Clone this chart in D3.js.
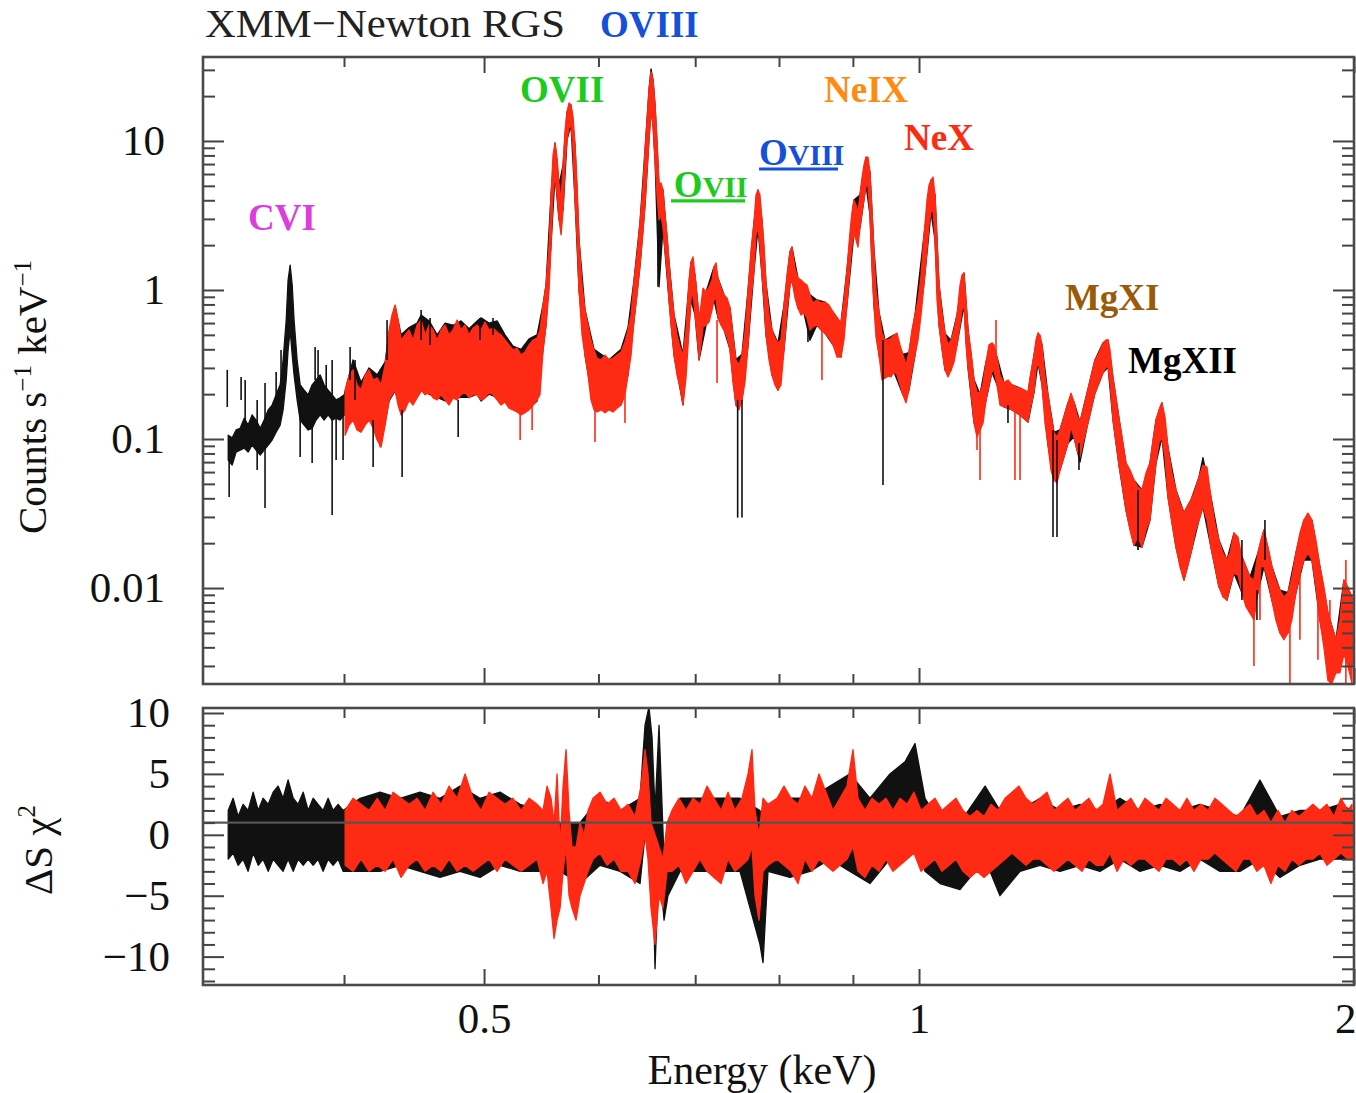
<!DOCTYPE html>
<html><head><meta charset="utf-8">
<script src="https://cdn.jsdelivr.net/npm/d3@7"></script>
<style>body{margin:0;background:#fff}</style></head>
<body>
<svg id="c" width="1356" height="1093"></svg>
<script>
// ===== DATA (energy keV, upper, lower) =====
const redSpectrum = [
[0.4007,0.213,0.106],[0.4033,0.269,0.124],[0.4058,0.291,0.134],[0.4084,0.231,0.115],[0.4110,0.213,0.111],
[0.4137,0.269,0.124],[0.4163,0.291,0.134],[0.4190,0.249,0.118],[0.4217,0.257,0.0985],[0.4243,0.231,0.0882],
[0.4271,0.314,0.124],[0.4298,0.539,0.183],[0.4318,0.680,0.198],[0.4339,0.793,0.213],[0.4360,0.629,0.169],
[0.4381,0.462,0.145],[0.4409,0.499,0.157],[0.4437,0.539,0.183],[0.4465,0.462,0.169],[0.4494,0.582,0.189],
[0.4523,0.629,0.213],[0.4552,0.499,0.198],[0.4581,0.582,0.206],[0.4610,0.539,0.189],[0.4640,0.462,0.183],
[0.4669,0.539,0.198],[0.4699,0.582,0.183],[0.4729,0.499,0.169],[0.4759,0.539,0.189],[0.4790,0.629,0.183],
[0.4820,0.539,0.198],[0.4851,0.582,0.206],[0.4882,0.499,0.189],[0.4913,0.556,0.198],[0.4945,0.582,0.198],
[0.4976,0.539,0.183],[0.5008,0.610,0.189],[0.5040,0.539,0.206],[0.5072,0.556,0.198],[0.5105,0.522,0.183],
[0.5137,0.499,0.169],[0.5170,0.462,0.177],[0.5203,0.428,0.161],[0.5236,0.396,0.157],[0.5270,0.408,0.152],
[0.5304,0.366,0.145],[0.5338,0.384,0.150],[0.5372,0.428,0.157],[0.5406,0.462,0.169],[0.5441,0.476,0.183],
[0.5466,0.539,0.198],[0.5493,0.793,0.396],[0.5519,1.08,0.582],[0.5546,2.00,1.00],[0.5563,4.34,2.00],
[0.5581,8.05,4.34],[0.5599,9.69,5.91],[0.5617,7.68,4.34],[0.5635,5.07,2.95],[0.5653,4.02,2.34],
[0.5671,6.90,3.44],[0.5689,11.85,6.90],[0.5707,15.7,10.16],[0.5725,18.0,12.2],[0.5743,17.45,12.8],
[0.5762,14.5,8.70],[0.5780,9.40,4.02],[0.5799,5.07,2.17],[0.5817,2.17,1.00],[0.5845,1.08,0.499],
[0.5873,0.734,0.366],[0.5901,0.582,0.269],[0.5929,0.462,0.183],[0.5958,0.396,0.157],[0.5986,0.349,0.152],
[0.6025,0.339,0.157],[0.6063,0.366,0.150],[0.6102,0.339,0.157],[0.6141,0.349,0.152],[0.6180,0.366,0.161],
[0.6220,0.384,0.169],[0.6259,0.448,0.198],[0.6289,0.539,0.269],[0.6320,0.680,0.366],[0.6350,1.167,0.629],
[0.6380,1.72,0.926],[0.6411,2.86,1.47],[0.6442,5.07,2.53],[0.6462,8.70,3.72],[0.6483,13.84,6.39],
[0.6503,22.0,10.16],[0.6524,29.1,16.15],[0.6545,25.7,12.8],[0.6566,17.45,7.46],[0.6587,10.16,4.34],
[0.6608,5.07,2.95],[0.6629,5.22,3.19],[0.6650,4.69,2.61],[0.6671,3.19,1.855],[0.6693,2.34,1.32],
[0.6714,1.54,0.857],[0.6735,1.08,0.582],[0.6768,0.680,0.366],[0.6800,0.499,0.269],[0.6833,0.415,0.224],
[0.6865,0.366,0.169],[0.6898,0.539,0.257],[0.6931,1.167,0.539],[0.6953,1.54,0.857],[0.6976,1.67,0.969],
[0.6998,1.26,0.680],[0.7020,0.926,0.499],[0.7043,0.649,0.339],[0.7065,0.793,0.428],[0.7088,1.03,0.564],
[0.7122,0.969,0.582],[0.7156,1.047,0.610],[0.7190,1.167,0.734],[0.7213,1.425,0.857],[0.7236,1.52,0.884],
[0.7259,1.20,0.649],[0.7294,1.03,0.582],[0.7329,0.926,0.539],[0.7364,0.884,0.484],[0.7399,0.757,0.396],
[0.7435,0.484,0.238],[0.7470,0.339,0.169],[0.7506,0.314,0.157],[0.7542,0.366,0.183],[0.7578,0.522,0.241],
[0.7615,1.00,0.428],[0.7651,1.855,0.857],[0.7688,2.86,1.36],[0.7712,4.34,2.34],[0.7737,4.69,2.61],
[0.7761,4.34,2.00],[0.7786,2.95,1.26],[0.7811,2.00,0.857],[0.7836,1.114,0.499],[0.7874,0.680,0.339],
[0.7911,0.539,0.269],[0.7949,0.476,0.231],[0.7987,0.441,0.213],[0.8025,0.462,0.231],[0.8064,0.793,0.396],
[0.8103,1.26,0.734],[0.8141,1.80,1.08],[0.8167,1.94,1.167],[0.8207,1.40,0.884],[0.8246,1.20,0.757],
[0.8285,1.167,0.680],[0.8325,1.114,0.701],[0.8365,1.08,0.649],[0.8405,0.926,0.539],[0.8445,0.818,0.564],
[0.8499,0.857,0.582],[0.8553,0.818,0.539],[0.8608,0.831,0.514],[0.8663,0.793,0.476],[0.8719,0.712,0.428],
[0.8775,0.649,0.355],[0.8830,0.600,0.355],[0.8873,0.857,0.462],[0.8915,1.36,0.793],[0.8958,2.45,1.40],
[0.8987,3.33,2.00],[0.9015,4.02,2.41],[0.9044,3.72,2.17],[0.9073,3.33,1.94],[0.9102,4.34,2.61],
[0.9131,5.64,3.33],[0.9160,6.90,4.02],[0.9190,7.80,5.07],[0.9219,7.80,4.92],[0.9248,6.19,3.19],
[0.9278,3.44,1.36],[0.9307,1.855,0.793],[0.9337,1.00,0.484],[0.9382,0.712,0.366],[0.9427,0.514,0.249],
[0.9472,0.462,0.257],[0.9517,0.462,0.265],[0.9563,0.476,0.261],[0.9609,0.499,0.282],[0.9655,0.514,0.269],
[0.9701,0.428,0.231],[0.9747,0.366,0.198],[0.9794,0.314,0.175],[0.9841,0.384,0.213],[0.9888,0.539,0.291],
[0.9936,0.680,0.366],[0.9984,0.857,0.462],[1.0032,1.26,0.680],[1.0080,2.34,1.114],[1.0128,4.02,1.855],
[1.0161,5.07,2.73],[1.0193,5.47,3.33],[1.0226,5.73,3.44],[1.0258,4.34,2.17],[1.0291,2.17,0.857],
[1.0324,1.08,0.582],[1.0373,0.712,0.396],[1.0423,0.514,0.291],[1.0473,0.428,0.261],[1.0523,0.462,0.291],
[1.0574,0.539,0.329],[1.0624,0.680,0.428],[1.0675,1.08,0.582],[1.0709,1.26,0.734],[1.0743,1.30,0.793],
[1.0777,0.857,0.428],[1.0812,0.539,0.300],[1.0864,0.384,0.206],[1.0916,0.249,0.128],[1.0968,0.206,0.103],
[1.1021,0.203,0.115],[1.1074,0.238,0.128],[1.1127,0.329,0.183],[1.1180,0.428,0.231],[1.1233,0.441,0.282],
[1.1269,0.428,0.291],[1.1323,0.355,0.231],[1.1377,0.269,0.169],[1.1450,0.238,0.164],[1.1523,0.249,0.161],
[1.1597,0.231,0.157],[1.1671,0.224,0.150],[1.1746,0.220,0.145],[1.1821,0.213,0.138],[1.1897,0.206,0.130],
[1.1934,0.257,0.157],[1.2011,0.366,0.206],[1.2049,0.462,0.291],[1.2088,0.514,0.324],[1.2126,0.499,0.291],
[1.2165,0.428,0.231],[1.2223,0.261,0.128],[1.2282,0.198,0.091],[1.2340,0.145,0.0619],[1.2400,0.111,0.0531],
[1.2459,0.103,0.0507],[1.2519,0.115,0.0619],[1.2599,0.141,0.0756],[1.2680,0.175,0.094],[1.2740,0.203,0.120],
[1.2801,0.177,0.103],[1.2862,0.145,0.0843],[1.2924,0.130,0.0756],[1.2986,0.157,0.094],[1.3069,0.203,0.120],
[1.3152,0.261,0.157],[1.3236,0.339,0.203],[1.3321,0.377,0.238],[1.3406,0.441,0.278],[1.3470,0.462,0.304],
[1.3514,0.462,0.304],[1.3557,0.396,0.238],[1.3622,0.257,0.134],[1.3687,0.189,0.094],[1.3752,0.138,0.0669],
[1.3818,0.103,0.0507],[1.3906,0.0690,0.0334],[1.3996,0.0619,0.0245],[1.4085,0.0531,0.0194],[1.4176,0.0476,0.0220],
[1.4266,0.0455,0.0188],[1.4357,0.0591,0.0245],[1.4449,0.0690,0.0286],[1.4518,0.0985,0.0455],[1.4588,0.134,0.0690],
[1.4657,0.157,0.094],[1.4727,0.175,0.103],[1.4798,0.141,0.0756],[1.4869,0.0882,0.0408],[1.4964,0.0591,0.0273],
[1.5060,0.0455,0.0188],[1.5156,0.0372,0.0139],[1.5253,0.0319,0.0113],[1.5351,0.0361,0.0143],[1.5424,0.0390,0.0172],
[1.5523,0.0455,0.0234],[1.5622,0.0555,0.0286],[1.5722,0.0669,0.0350],[1.5822,0.0649,0.0286],[1.5923,0.0408,0.0188],
[1.6024,0.0273,0.0139],[1.6127,0.0210,0.0102],[1.6231,0.0172,0.0087],[1.6334,0.0154,0.0083],[1.6413,0.0172,0.0102],
[1.6518,0.0234,0.0126],[1.6623,0.0220,0.0122],[1.6729,0.0162,0.0093],[1.6836,0.0139,0.0075],[1.6944,0.0118,0.0068],
[1.7052,0.0113,0.0061],[1.7162,0.0172,0.0093],[1.7244,0.0210,0.0139],[1.7326,0.0245,0.0139],[1.7437,0.0188,0.0113],
[1.7548,0.0139,0.0083],[1.7660,0.0113,0.0061],[1.7773,0.0097,0.0050],[1.7887,0.0087,0.0045],[1.8001,0.0093,0.0050],
[1.8116,0.0118,0.0061],[1.8232,0.0172,0.0093],[1.8349,0.0234,0.0126],[1.8466,0.0286,0.0154],[1.8584,0.0319,0.0172],
[1.8703,0.0286,0.0154],[1.8822,0.0210,0.0102],[1.8943,0.0139,0.0061],[1.9064,0.0102,0.0040],[1.9186,0.0068,0.0024],
[1.9308,0.0055,0.0023],[1.9432,0.0045,0.0027],[1.9556,0.0061,0.0027],[1.9681,0.0113,0.0036],[1.9806,0.0102,0.0030],
[1.9934,0.0087,0.0023]
];

const blackSpectrum = [
[0.3326,0.106,0.0723],[0.3347,0.102,0.0669],[0.3368,0.115,0.0817],[0.3390,0.118,0.0843],[0.3412,0.138,0.0869],
[0.3433,0.124,0.0817],[0.3455,0.145,0.091],[0.3477,0.134,0.0843],[0.3500,0.118,0.0780],[0.3522,0.134,0.0843],
[0.3545,0.157,0.091],[0.3567,0.169,0.0985],[0.3590,0.198,0.111],[0.3613,0.231,0.124],[0.3630,0.339,0.157],
[0.3648,0.629,0.249],[0.3659,1.167,0.396],[0.3671,1.47,0.539],[0.3683,1.08,0.366],[0.3694,0.629,0.269],
[0.3712,0.339,0.183],[0.3730,0.231,0.134],[0.3754,0.213,0.124],[0.3778,0.198,0.115],[0.3802,0.231,0.118],
[0.3826,0.249,0.134],[0.3851,0.269,0.145],[0.3875,0.231,0.134],[0.3900,0.213,0.145],[0.3925,0.198,0.134],
[0.3950,0.183,0.138],[0.3975,0.189,0.134],[0.4001,0.198,0.145],
[0.4058,0.34,0.14],[0.4110,0.24,0.12],[0.4163,0.30,0.135],[0.4217,0.27,0.12],[0.4271,0.33,0.13],
[0.4298,0.52,0.18],[0.4339,0.78,0.21],[0.4381,0.50,0.16],[0.4437,0.56,0.18],[0.4494,0.60,0.19],
[0.4523,0.68,0.21],[0.4581,0.62,0.20],[0.4640,0.50,0.19],[0.4699,0.60,0.18],[0.4759,0.58,0.19],
[0.4820,0.62,0.19],[0.4882,0.55,0.19],[0.4945,0.62,0.20],[0.4976,0.65,0.18],[0.5040,0.60,0.20],
[0.5105,0.62,0.19],[0.5170,0.50,0.18],[0.5236,0.42,0.16],[0.5304,0.40,0.15],[0.5372,0.47,0.16],
[0.5441,0.50,0.18],[0.5493,0.80,0.40],[0.5519,1.08,0.58],[0.5563,4.34,2.00],[0.5599,9.69,5.91],
[0.5635,5.07,2.95],[0.5671,6.90,3.44],[0.5707,15.7,10.2],[0.5743,17.45,12.8],[0.5780,9.4,4.0],
[0.5817,2.17,1.0],[0.5873,0.734,0.366],[0.5958,0.40,0.16],[0.6102,0.34,0.16],[0.6220,0.40,0.17],
[0.6289,0.56,0.27],[0.6350,1.17,0.63],[0.6411,2.86,1.47],[0.6462,8.7,3.72],[0.6503,22,10.2],
[0.6524,30.5,16.2],[0.6545,25.7,12.8],[0.6566,17.5,7.5],[0.6608,5.0,1.05],[0.6650,4.69,2.61],
[0.6714,1.54,0.857],[0.6768,0.68,0.366],[0.6865,0.37,0.17],[0.6953,1.54,0.857],[0.6998,1.26,0.68],
[0.7043,0.65,0.34],[0.7122,0.97,0.58],[0.7213,1.43,0.857],[0.7259,1.2,0.649],[0.7329,0.93,0.54],
[0.7399,0.76,0.40],[0.7470,0.34,0.169],[0.7542,0.37,0.183],[0.7615,1.0,0.428],[0.7688,2.86,1.36],
[0.7737,4.69,2.61],[0.7786,2.95,1.26],[0.7836,1.11,0.5],[0.7911,0.54,0.27],[0.7987,0.44,0.213],
[0.8064,0.79,0.40],[0.8141,1.80,1.08],[0.8167,1.94,1.17],[0.8246,1.20,0.757],[0.8325,1.11,0.70],
[0.8405,0.93,0.46],[0.8499,0.857,0.582],[0.8608,0.83,0.514],[0.8719,0.71,0.428],[0.8830,0.60,0.355],
[0.8915,1.36,0.79],[0.9015,4.02,2.41],[0.9102,4.34,2.61],[0.9190,7.8,5.07],[0.9248,6.19,3.19],
[0.9307,1.86,0.79],[0.9382,0.71,0.366],[0.9472,0.46,0.257],[0.9609,0.50,0.282],[0.9747,0.37,0.198],
[0.9841,0.38,0.213],[0.9936,0.68,0.366],[1.0080,2.34,1.11],[1.0193,5.47,3.33],[1.0258,4.34,2.17],
[1.0324,1.08,0.58],[1.0423,0.51,0.29],[1.0523,0.46,0.29],[1.0624,0.68,0.43],[1.0743,1.30,0.79],
[1.0812,0.54,0.30],[1.0916,0.25,0.128],[1.1021,0.20,0.115],[1.1127,0.33,0.183],[1.1233,0.44,0.28],
[1.1323,0.355,0.231],[1.1450,0.238,0.164],[1.1597,0.231,0.157],[1.1746,0.22,0.145],[1.1897,0.206,0.130],
[1.2011,0.366,0.206],[1.2088,0.514,0.324],[1.2165,0.43,0.231],[1.2282,0.198,0.091],[1.2400,0.111,0.053],
[1.2519,0.115,0.062],[1.2680,0.175,0.094],[1.2801,0.177,0.103],[1.2924,0.130,0.070],[1.3069,0.203,0.120],
[1.3236,0.339,0.203],[1.3406,0.441,0.278],[1.3514,0.462,0.304],[1.3622,0.257,0.134],[1.3752,0.138,0.0669],
[1.3906,0.069,0.0334],[1.4085,0.053,0.0194],[1.4266,0.0455,0.0188],[1.4449,0.069,0.0286],[1.4588,0.134,0.069],
[1.4727,0.175,0.103],[1.4869,0.088,0.041],[1.5060,0.0455,0.0188],[1.5253,0.032,0.0113],[1.5424,0.039,0.0172],
[1.5622,0.0555,0.0286],[1.5722,0.075,0.035],[1.5923,0.0408,0.0188],[1.6127,0.021,0.0102],[1.6334,0.0154,0.0083],
[1.6518,0.0234,0.0126],[1.6729,0.0162,0.0093],[1.6944,0.0118,0.0068],[1.7162,0.0172,0.0093],[1.7326,0.0245,0.0139],
[1.7548,0.0139,0.0083],[1.7773,0.0097,0.0050],[1.8001,0.0093,0.0050],[1.8232,0.0172,0.0093],[1.8466,0.0286,0.0154],
[1.8703,0.0286,0.0154],[1.8943,0.0139,0.0061],[1.9186,0.0068,0.0030],[1.9432,0.0045,0.0027],[1.9681,0.0113,0.0036],
[1.9934,0.0087,0.0030]
];

// single outlying error bars (energy, upper, lower)
const blackSpikes = [
[0.3321,0.291,0.164],[0.3331,0.0985,0.0408],[0.3395,0.261,0.183],[0.3417,0.249,0.134],[0.3483,0.183,0.0619],
[0.3527,0.238,0.0345],[0.3590,0.282,0.183],[0.3618,0.396,0.183],[0.3730,0.183,0.0756],[0.3802,0.134,0.0690],
[0.3820,0.415,0.249],[0.3838,0.396,0.213],[0.3888,0.314,0.183],[0.3925,0.339,0.0309],[0.3950,0.183,0.0723],
[0.3994,0.157,0.0723],[0.4039,0.415,0.249],[0.4071,0.339,0.183],[0.4190,0.134,0.0649],[0.4284,0.629,0.339],
[0.4388,0.157,0.0555],[0.4523,0.734,0.462],[0.4588,0.649,0.428],[0.4798,0.183,0.103],[0.4968,0.649,0.462],
[0.5072,0.649,0.499],[0.6597,2.61,1.05],[0.7490,0.183,0.0297],[0.7542,0.183,0.0297],[0.8378,0.539,0.448],
[0.9442,0.462,0.0491],[1.1523,0.169,0.128],[1.2380,0.115,0.0220],[1.2459,0.0985,0.0220],[1.2903,0.094,0.0619],
[1.4176,0.0455,0.0180],[1.6729,0.0210,0.0083],[1.7134,0.0097,0.0061],[1.7354,0.0286,0.0154]
];
const redSpikes = [
[0.4237,0.134,0.0882],[0.5296,0.183,0.0985],[0.5398,0.183,0.115],[0.5967,0.183,0.0955],[0.6259,0.198,0.128],
[0.7248,0.629,0.238],[0.8567,0.629,0.249],[1.0968,0.134,0.0843],[1.1021,0.115,0.0531],[1.1305,0.629,0.339],
[1.1652,0.157,0.0531],[1.1746,0.157,0.0531],[1.4176,0.0245,0.0180],[1.7052,0.0083,0.0030],[1.7216,0.0154,0.0061],
[1.8059,0.0083,0.0023],[1.8349,0.0154,0.0045],[1.8883,0.0154,0.0033],[1.9247,0.0083,0.0023],[1.9743,0.0154,0.0023]
];

// residuals (energy, upper, lower)
const redResidual = [
[0.4007,2,-2.5],[0.4058,3,-3],[0.4110,2.5,-2],[0.4163,2,-3],[0.4217,3,-2.5],[0.4271,2,-3],[0.4325,3.5,-2],
[0.4381,3,-3.5],[0.4437,2.5,-2.5],[0.4494,3,-2],[0.4552,2,-3],[0.4610,3.5,-2.5],[0.4669,2.5,-3],[0.4729,4,-2],
[0.4790,3,-3],[0.4851,5,-2.5],[0.4913,3,-3],[0.4976,2,-2.5],[0.5040,3.5,-2],[0.5105,3,-3],[0.5170,2.5,-2],
[0.5236,3,-2.5],[0.5304,2,-3],[0.5372,3,-2.5],[0.5441,2.5,-2],[0.5493,2,-4],[0.5528,4,-3],[0.5563,3,-6],
[0.5590,1,-8.5],[0.5617,5,-7],[0.5644,-1,-6],[0.5671,4,-3],[0.5698,7,-1],[0.5725,2,-5],[0.5752,-1,-6],
[0.5789,-1,-7],[0.5826,1,-5],[0.5864,0,-4],[0.5901,2,-3],[0.5948,3,-2],[0.6015,3.5,-1.5],[0.6083,2.5,-2.5],
[0.6151,3,-2],[0.6220,2,-3],[0.6289,2.5,-3],[0.6360,1.5,-4],[0.6421,4,-2],[0.6462,7,0],[0.6493,5,-2],
[0.6524,1,-6],[0.6566,0,-9],[0.6608,-1,-5],[0.6650,-2,-6],[0.6693,1,-3],[0.6746,2,-3],[0.6822,3,-2.5],
[0.6898,2,-4],[0.6976,3,-3],[0.7054,2.5,-2],[0.7133,4,-3],[0.7213,3,-3.5],[0.7294,2,-4],[0.7376,3.5,-2],
[0.7458,2,-3],[0.7542,3,-2.5],[0.7615,5,-2],[0.7663,7,-1],[0.7700,2,-5],[0.7749,0,-7],[0.7799,3,-3],
[0.7861,2.5,-2.5],[0.7975,3,-2],[0.8064,4,-2.5],[0.8154,3,-3],[0.8246,2.5,-4],[0.8338,4,-2],[0.8432,3,-3],
[0.8527,5,-2],[0.8622,3.5,-2.5],[0.8719,2,-3],[0.8816,3,-2.5],[0.8915,4,-2],[0.9001,7,-1],[0.9073,3,-3],
[0.9175,2,-3.5],[0.9278,3,-2.5],[0.9382,2.5,-3],[0.9487,3,-2],[0.9593,2,-3],[0.9701,3,-2.5],[0.9810,2.5,-2],
[0.9920,3.5,-1.5],[1.0032,2,-3],[1.0144,2.5,-2.5],[1.0258,3,-2],[1.0373,2,-3],[1.0490,2.5,-2.5],[1.0607,3,-2],
[1.0726,2,-3],[1.0847,1.5,-3.5],[1.0968,2,-3],[1.1091,1.5,-3.5],[1.1216,2.5,-3],[1.1341,2,-2.5],[1.1468,3,-2],
[1.1597,3.5,-1.5],[1.1727,4,-2],[1.1859,3,-2.5],[1.1992,2.5,-2],[1.2126,3,-2],[1.2262,3.5,-2.5],[1.2400,2,-3],
[1.2539,2.5,-2.5],[1.2680,3,-2],[1.2822,2,-2.5],[1.2965,2.5,-3],[1.3111,3,-2],[1.3258,2,-2.5],[1.3406,2.5,-2.5],
[1.3557,5,-1.5],[1.3709,2,-3],[1.3862,2.5,-2],[1.4018,3,-2.5],[1.4176,2,-2],[1.4334,3,-2],[1.4495,2.5,-2.5],
[1.4657,2,-3],[1.4822,3,-2],[1.4988,2.5,-2],[1.5156,2,-2.5],[1.5325,3,-2],[1.5498,2,-3],[1.5672,2.5,-2],
[1.5848,2,-2],[1.6024,3,-1.5],[1.6205,2.5,-2],[1.6386,2,-2.5],[1.6570,1.5,-3],[1.6756,2,-2],[1.6944,2.5,-2],
[1.7134,1.5,-3],[1.7326,2,-2.5],[1.7520,1,-4],[1.7716,2,-2.5],[1.7915,1,-3],[1.8116,2,-2],[1.8320,1.5,-2.5],
[1.8525,2,-2],[1.8733,2.5,-2],[1.8943,2,-1.5],[1.9155,2.5,-2.5],[1.9370,1.5,-2],[1.9587,3,-1.5],[1.9806,2,-2],
[1.9934,2.5,-2]
];
const blackResidual = [
[0.3326,2,-2],[0.3352,3,-1.5],[0.3379,1.5,-2.5],[0.3406,2.5,-2],[0.3433,2,-3],[0.3461,3.5,-1.5],[0.3489,2,-2.5],
[0.3516,3,-2],[0.3545,2.5,-3],[0.3573,3.5,-2],[0.3601,4,-2.5],[0.3630,3,-3],[0.3659,4.5,-2],[0.3689,3,-3],
[0.3718,2.5,-2],[0.3748,3.5,-2.5],[0.3778,2,-2],[0.3808,3,-2.5],[0.3838,2.5,-2],[0.3869,2,-3],[0.3900,3,-2],
[0.3931,2,-2.5],[0.3963,2.5,-2],[0.3994,2,-3],[0.4104,3,-3],[0.4237,3.5,-3],[0.4374,3,-2.5],[0.4515,3.5,-3],
[0.4661,3,-3.5],[0.4812,4,-3],[0.4968,3,-3.5],[0.5129,3.5,-2.5],[0.5296,2.5,-3],[0.5466,2,-3],[0.5644,1,-3],
[0.5826,1,-4],[0.6015,3,-2.5],[0.6210,2,-3],[0.6411,3,-4],[0.6462,9,0],[0.6503,10.5,3],[0.6535,8,-1],
[0.6566,2,-11],[0.6608,9,-2],[0.6661,-2,-7],[0.6703,0,-5],[0.6833,3,-3],[0.7054,3,-3],[0.7282,3,-3],
[0.7518,3,-3],[0.7761,2,-9],[0.7799,1,-10.5],[0.7861,2,-3],[0.8141,3,-3.5],[0.8405,3,-3],[0.8677,4,-2],
[0.8958,5,-3],[0.9248,3,-4],[0.9547,5,-2],[0.9779,6,-1],[0.9936,7.5,0],[1.0096,3,-3],[1.0340,1,-4],
[1.0675,1,-4.5],[1.1110,4,-2],[1.1377,2,-5],[1.1746,2,-3],[1.2126,3,-2.5],[1.2519,2,-3],[1.2924,2.5,-2.5],
[1.3342,2,-3],[1.3774,3,-2],[1.4220,2,-3],[1.4680,2.5,-2.5],[1.5156,2,-3],[1.5647,2.5,-2],[1.6153,2,-3],
[1.6676,1.5,-3],[1.7216,4.5,-2],[1.7773,1.5,-3.5],[1.8349,2,-2.5],[1.8943,2,-2],[1.9556,2.5,-2],[1.9934,2,-2]
];

const energyMajorTicks = [0.5, 1, 2];
const energyTickLabels = ["0.5", "1", "2"];
const energyMinorTicks = [0.4, 0.6, 0.7, 0.8, 0.9];
const countMajorTicks = [0.01, 0.1, 1, 10];
const countTickLabels = ["0.01", "0.1", "1", "10"];
const residMajorTicks = [-10, -5, 0, 5, 10];
const residTickLabels = ["\u221210", "\u22125", "0", "5", "10"];
const residualRefLevel = 1;

const lineLabels = [
  {text:"CVI", color:"#dd3ddd", E:0.3433, y:2.53},
  {text:"OVII", color:"#1ccc1c", E:0.5295, y:18.3},
  {text:"NeIX", color:"#ff8a10", E:0.8595, y:18.3},
  {text:"NeX", color:"#ff2a10", E:0.9764, y:8.7},
  {text:"MgXI", color:"#9a5a08", E:1.2618, y:0.734},
  {text:"MgXII", color:"#000000", E:1.3952, y:0.277}
];

// ===== LAYOUT =====
const svg = d3.select("#c");
const L = 203, R = 1354, T1 = 57, B1 = 684, T2 = 708, B2 = 985;
const serif = "'Liberation Serif','Times New Roman',serif";
const RED = "#ff2a14", BLK = "#111";

const x = d3.scaleLog().domain([0.3195, 2.0]).range([L, R]);
const yTop = d3.scaleLog().domain([0.00227, 36.6]).range([B1, T1]);
const yBot = d3.scaleLinear().domain([-12.33, 10.41]).range([B2, T2]);

const defs = svg.append("defs");
defs.append("clipPath").attr("id","clipTop").append("rect").attr("x",L).attr("y",T1).attr("width",R-L).attr("height",B1-T1);
defs.append("clipPath").attr("id","clipBot").append("rect").attr("x",L).attr("y",T2).attr("width",R-L).attr("height",B2-T2);

function band(g, data, ys, color){
  const a = d3.area().x(d=>x(d[0])).y0(d=>ys(d[2])).y1(d=>ys(d[1]));
  g.append("path").datum(data).attr("d", a).attr("fill", color)
   .attr("stroke", color).attr("stroke-width", 1.3).attr("stroke-linejoin","round");
}
function bars(g, data, ys, color, w){
  g.selectAll(null).data(data).join("line")
   .attr("x1", d=>x(d[0])).attr("x2", d=>x(d[0]))
   .attr("y1", d=>ys(d[1])).attr("y2", d=>ys(d[2]))
   .attr("stroke", color).attr("stroke-width", w);
}

const gTop = svg.append("g").attr("clip-path","url(#clipTop)");
band(gTop, blackSpectrum, yTop, BLK);
band(gTop, redSpectrum, yTop, RED);
bars(gTop, redSpikes, yTop, RED, 1.6);
bars(gTop, blackSpikes, yTop, BLK, 1.6);

const gBot = svg.append("g").attr("clip-path","url(#clipBot)");
band(gBot, blackResidual, yBot, BLK);
band(gBot, redResidual, yBot, RED);
gBot.append("line").attr("x1",L).attr("x2",R).attr("y1",yBot(residualRefLevel)).attr("y2",yBot(residualRefLevel))
  .attr("stroke","#555").attr("stroke-width",2.2);

function styleAxis(g){
  g.select(".domain").remove();
  g.selectAll(".tick line").attr("stroke","#444").attr("stroke-width",2);
  g.attr("font-family", serif).attr("font-size", 43);
  g.selectAll("text").attr("fill","#111");
}
function addAxis(axis, tx, ty){
  const g = svg.append("g").attr("transform",`translate(${tx},${ty})`).call(axis);
  styleAxis(g); return g;
}
const countMinor = [];
[0.001,0.01,0.1,1,10].forEach(dec=>{ for(let k=2;k<=9;k++){ const v=k*dec; if(v>0.00227 && v<36.6) countMinor.push(v);} });
const residMinor = d3.range(-12, 11).filter(v=>residMajorTicks.indexOf(v)<0);

addAxis(d3.axisLeft(yTop).tickValues(countMajorTicks).tickSize(-21).tickPadding(38).tickFormat((d,i)=>countTickLabels[i]), L, 0);
addAxis(d3.axisLeft(yTop).tickValues(countMinor).tickSize(-12).tickFormat(""), L, 0);
addAxis(d3.axisRight(yTop).tickValues(countMajorTicks).tickSize(-21).tickFormat(""), R, 0);
addAxis(d3.axisRight(yTop).tickValues(countMinor).tickSize(-12).tickFormat(""), R, 0);
addAxis(d3.axisBottom(x).tickValues(energyMajorTicks).tickSize(-16).tickFormat(""), 0, B1);
addAxis(d3.axisBottom(x).tickValues(energyMinorTicks).tickSize(-10).tickFormat(""), 0, B1);
addAxis(d3.axisTop(x).tickValues(energyMajorTicks).tickSize(-16).tickFormat(""), 0, T1);
addAxis(d3.axisTop(x).tickValues(energyMinorTicks).tickSize(-10).tickFormat(""), 0, T1);
addAxis(d3.axisLeft(yBot).tickValues(residMajorTicks).tickSize(-21).tickPadding(33).tickFormat((d,i)=>residTickLabels[i]), L, 0);
addAxis(d3.axisLeft(yBot).tickValues(residMinor).tickSize(-12).tickFormat(""), L, 0);
addAxis(d3.axisRight(yBot).tickValues(residMajorTicks).tickSize(-21).tickFormat(""), R, 0);
addAxis(d3.axisRight(yBot).tickValues(residMinor).tickSize(-12).tickFormat(""), R, 0);
const xb = addAxis(d3.axisBottom(x).tickValues(energyMajorTicks).tickSize(-16).tickPadding(17).tickFormat((d,i)=>energyTickLabels[i]), 0, B2);
xb.selectAll(".tick").filter(d=>d===2).select("text").attr("text-anchor","end").attr("x",2);
addAxis(d3.axisBottom(x).tickValues(energyMinorTicks).tickSize(-10).tickFormat(""), 0, B2);
addAxis(d3.axisTop(x).tickValues(energyMajorTicks).tickSize(-16).tickFormat(""), 0, T2);
addAxis(d3.axisTop(x).tickValues(energyMinorTicks).tickSize(-10).tickFormat(""), 0, T2);

[[T1,B1],[T2,B2]].forEach(([t,b])=>{
  svg.append("rect").attr("x",L).attr("y",t).attr("width",R-L).attr("height",b-t)
    .attr("fill","none").attr("stroke","#4a4a4a").attr("stroke-width",2.6);
});

svg.append("text").attr("x",762).attr("y",1084).attr("text-anchor","middle")
  .attr("font-family",serif).attr("font-size",42).attr("fill","#111").text("Energy (keV)");

const yt = svg.append("text").attr("transform","translate(46,397) rotate(-90)").attr("text-anchor","middle")
  .attr("font-family",serif).attr("font-size",41).attr("fill","#111");
yt.append("tspan").text("Counts s");
yt.append("tspan").attr("font-size",25).attr("dy",-15).text("\u22121");
yt.append("tspan").attr("dy",15).text(" keV");
yt.append("tspan").attr("font-size",25).attr("dy",-15).text("\u22121");

const yb = svg.append("text").attr("transform","translate(52,850) rotate(-90)").attr("text-anchor","middle")
  .attr("font-family",serif).attr("font-size",41).attr("fill","#111");
yb.append("tspan").text("\u0394S \u03c7");
yb.append("tspan").attr("font-size",25).attr("dy",-17).text("2");

svg.append("text").attr("x",205).attr("y",37).attr("font-family",serif).attr("font-size",41)
  .attr("textLength",360).attr("lengthAdjust","spacingAndGlyphs")
  .attr("fill","#222").text("XMM\u2212Newton RGS");
svg.append("text").attr("x",600).attr("y",37).attr("font-family",serif).attr("font-weight","bold")
  .attr("font-size",37).attr("fill","#1450d8").text("OVIII");

lineLabels.forEach(d=>{
  svg.append("text").attr("x",x(d.E)).attr("y",yTop(d.y)).attr("font-family",serif).attr("font-weight","bold")
    .attr("font-size",37).attr("fill",d.color).text(d.text);
});
function scLabel(E, yv, big, small, color, ulFrom, ulTo){
  const t = svg.append("text").attr("x",x(E)).attr("y",yTop(yv)).attr("font-family",serif)
    .attr("font-weight","bold").attr("font-size",37).attr("fill",color);
  t.append("tspan").text(big);
  t.append("tspan").attr("font-size",30).text(small);
  svg.append("line").attr("x1",x(ulFrom)).attr("x2",x(ulTo)).attr("y1",yTop(yv)+4).attr("y2",yTop(yv)+4)
    .attr("stroke",color).attr("stroke-width",3.2);
}
scLabel(0.6766, 4.21, "O", "VII", "#1ccc1c", 0.6735, 0.7580);
scLabel(0.7750, 6.9, "O", "VIII", "#1450d8", 0.7750, 0.8790);
</script>
</body></html>
